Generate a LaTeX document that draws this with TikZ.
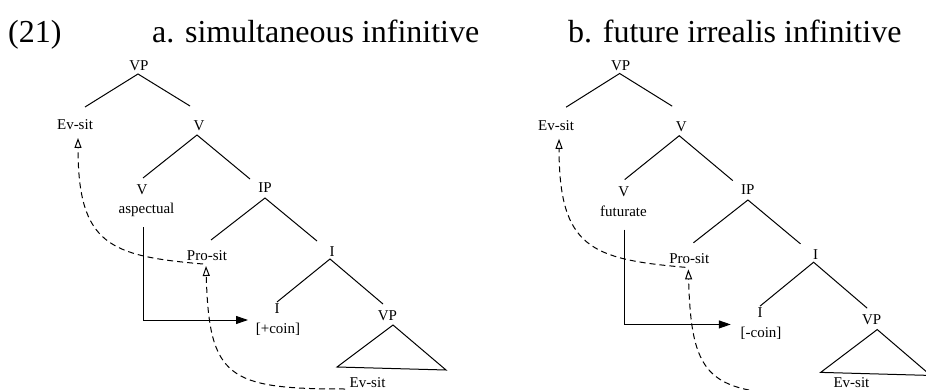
\documentclass[tikz,border=0pt]{standalone}
\usepackage{fontspec}
\setmainfont{Liberation Serif}
\usetikzlibrary{arrows.meta,calc}
\tikzset{
  lbl/.style={anchor=base,inner sep=0pt,font=\fontsize{15}{18}\selectfont},
  ttl/.style={anchor=base west,inner sep=0pt,font=\fontsize{32}{38}\selectfont},
  branch/.style={line width=1pt,line join=miter},
  movearrow/.style={line width=1pt,dash pattern=on 6pt off 4pt,-{Triangle[open,length=10pt,width=7pt,line width=1pt]}},
  selarrow/.style={line width=1pt,-{Triangle[length=12pt,width=8pt]}},
}
% #1 prefix, #2 word under V, #3 x of word, #4 coin label, #5 baseline of lowest Ev-sit
\newcommand\mytree[5]{%
  \node[lbl] (#1VPa) at (139,71) {VP};
  \node[lbl] (#1Eva) at (75,130) {Ev-sit};
  \node[lbl] (#1Va) at (199,131) {V};
  \node[lbl] (#1Vb) at (142,195) {V};
  \node[lbl] (#1word) at (#3,214) {#2};
  \node[lbl] (#1IP) at (265,193) {IP};
  \node[lbl] (#1Pro) at (207,260) {Pro-sit};
  \node[lbl] (#1Ia) at (332,256) {I};
  \node[lbl] (#1Ib) at (277,313) {I};
  \node[lbl] (#1coin) at (278,333) {#4};
  \node[lbl] (#1VPb) at (387.5,320) {VP};
  \node[lbl] (#1Evb) at (367.5,#5) {Ev-sit};
  % branches
  \draw[branch] ([shift={(10,-23)}]#1Eva.base) -- ([shift={(-1,3)}]#1VPa.base) -- ([shift={(-9,-25)}]#1Va.base);
  \draw[branch] ([shift={(1,-17)}]#1Vb.base) -- ([shift={(-2,4)}]#1Va.base) -- ([shift={(-15,-14)}]#1IP.base);
  \draw[branch] ([shift={(4,-20)}]#1Pro.base) -- ([shift={(0,5)}]#1IP.base) -- ([shift={(-15,-15)}]#1Ia.base);
  \draw[branch] ([shift={(0,-11)}]#1Ib.base) -- ([shift={(-2,3)}]#1Ia.base) -- ([shift={(-4.5,-16)}]#1VPb.base);
  \draw[branch] ([shift={(-50.5,47)}]#1VPb.base) -- ([shift={(5.5,5)}]#1VPb.base) -- ([shift={(58.5,50)}]#1VPb.base) -- cycle;
  % solid arrow
  \draw[selarrow] ([shift={(1,32)}]#1Vb.base) |- ([shift={(-30,-13)}]#1coin.base);
  % dashed movement arrows
  \draw[movearrow] ([shift={(-42.5,69)}]#1VPb.base) .. controls +(-117,0) and +(3,112) .. ([shift={(-1,6)}]#1Pro.base);
  \draw[movearrow] ([shift={(-4,4)}]#1Pro.base) .. controls +(-93,-8) and +(0,107) .. ([shift={(3,8)}]#1Eva.base);
}
\begin{document}
\begin{tikzpicture}[x=1pt,y=-1pt]
  \useasboundingbox (0,0) rectangle (926,390);
  \node[ttl] (num) at (8,43) {(21)};
  \node[ttl] (ta) at (152,43) {a. simultaneous infinitive};
  \node[ttl] (tb) at (568,43) {b. future irrealis infinitive};
  \begin{scope}
    \mytree{a}{aspectual}{146.5}{[+coin]}{387}
  \end{scope}
  \begin{scope}[shift={(480.25,-2)},xscale=1.01,yscale=1.02]
    \mytree{b}{futurate}{141.8}{[-coin]}{381.5}
  \end{scope}
\end{tikzpicture}
\end{document}
